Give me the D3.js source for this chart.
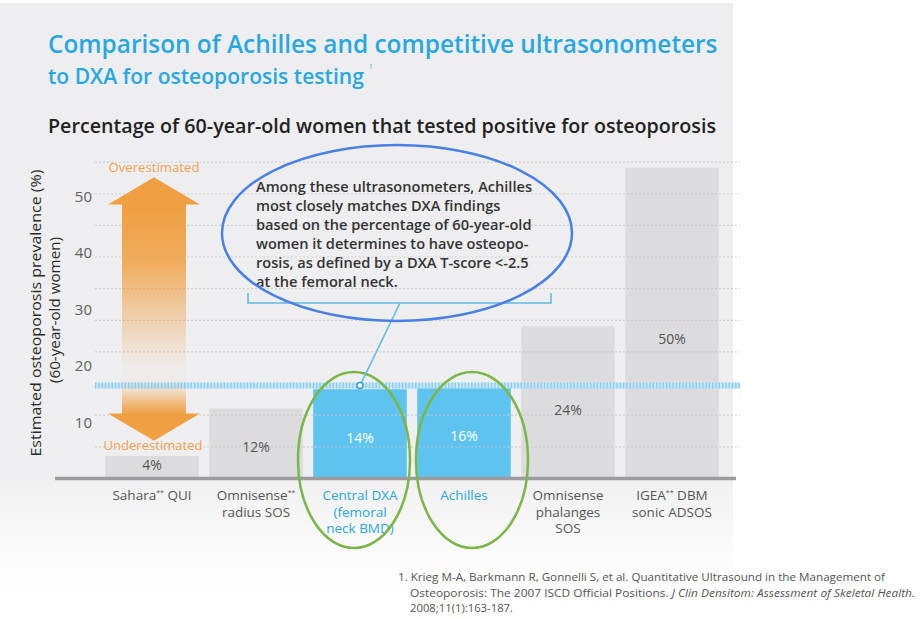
<!DOCTYPE html>
<html><head><meta charset="utf-8">
<script src="https://cdn.jsdelivr.net/npm/d3@7"></script>
<style>body{margin:0;background:#fff} svg{display:block;font-family:"Open Sans",Lato,sans-serif}</style>
</head><body><svg id="c" width="920" height="619"></svg>
<script>
// ---- data ----
const categories = ["Sahara QUI", "Omnisense radius SOS", "Central DXA", "Achilles", "Omnisense phalanges SOS", "IGEA DBM sonic ADSOS"];
const categoryLines = [
  ["Sahara** QUI"],
  ["Omnisense**", "radius SOS"],
  ["Central DXA", "(femoral", "neck BMD)"],
  ["Achilles"],
  ["Omnisense", "phalanges", "SOS"],
  ["IGEA** DBM", "sonic ADSOS"]
];
const percentLabels = [4, 12, 14, 16, 24, 50];          // printed values
const barHeights = [4, 12.4, 15.8, 16.8, 26.9, 55];      // bar tops read against the axis
const highlighted = [false, false, true, true, false, false];
const yTicks = [10, 20, 30, 40, 50];
const gridValues = [5.6, 11.2, 22.4, 28, 33.6, 39.2, 44.8, 50.4, 56];
const referenceValue = 16.8;
const titleLines = ["Comparison of Achilles and competitive ultrasonometers", "to DXA for osteoporosis testing"];
const subtitle = "Percentage of 60-year-old women that tested positive for osteoporosis";
const noteLines = [
  "Among these ultrasonometers, Achilles",
  "most closely matches DXA findings",
  "based on the percentage of 60-year-old",
  "women it determines to have osteopo-",
  "rosis, as defined by a DXA T-score <-2.5",
  "at the femoral neck."
];
const yTitle = ["Estimated osteoporosis prevalence (%)", "(60-year-old women)"];

// ---- setup ----
const svg = d3.select("#c");
const defs = svg.append("defs");
const x = d3.scaleBand().domain(categories).range([100, 724]).paddingInner(0.1).paddingOuter(0.05);
const y = d3.scaleLinear().domain([0, 50]).range([478.5, 196]);

// background
const bg = defs.append("linearGradient").attr("id", "bg").attr("x1", 0).attr("y1", 0).attr("x2", 0).attr("y2", 1);
bg.append("stop").attr("offset", 0).attr("stop-color", "#eeeef0");
bg.append("stop").attr("offset", 0.76).attr("stop-color", "#efeff1");
bg.append("stop").attr("offset", 0.82).attr("stop-color", "#f5f5f6");
bg.append("stop").attr("offset", 0.92).attr("stop-color", "#fdfdfd");
bg.append("stop").attr("offset", 1).attr("stop-color", "#ffffff");
svg.append("rect").attr("x", 0).attr("y", 3).attr("width", 733).attr("height", 616).attr("fill", "url(#bg)");

// titles (font size fitted so that natural widths match the reference)
const tg = svg.append("g").attr("fill", "#29a8e0").attr("font-weight", 600);
function fitText(sel, target) {
  sel.attr("font-size", 24);
  const w = sel.node().getComputedTextLength();
  sel.attr("font-size", 24 * target / w);
  return sel;
}
fitText(tg.append("text").attr("x", 48).attr("y", 53).text(titleLines[0]), 670);
fitText(tg.append("text").attr("x", 48).attr("y", 84).text(titleLines[1]), 316);
tg.append("text").attr("x", 369).attr("y", 69).attr("font-size", 6.5).attr("font-weight", 400).text("1");
svg.append("text").attr("x", 48).attr("y", 133).attr("fill", "#222").attr("font-size", 19.5).attr("font-weight", 600)
  .attr("textLength", 668).attr("lengthAdjust", "spacingAndGlyphs").text(subtitle);

// bars
svg.append("g").selectAll("rect").data(categories).join("rect")
  .attr("x", d => x(d)).attr("width", x.bandwidth())
  .attr("y", (d, i) => y(barHeights[i])).attr("height", (d, i) => y(0) - y(barHeights[i]))
  .attr("fill", (d, i) => highlighted[i] ? "#5ec4ef" : "#dcdcde");

// gridlines
svg.append("g").selectAll("line").data(gridValues).join("line")
  .attr("x1", 95).attr("x2", 740).attr("y1", d => y(d)).attr("y2", d => y(d))
  .attr("stroke", "#c8c8cc").attr("stroke-width", 1.2).attr("stroke-dasharray", "2,2").attr("opacity", 0.75);

// reference band
svg.append("line").attr("x1", 95).attr("x2", 740).attr("y1", y(referenceValue) + 2).attr("y2", y(referenceValue) + 2)
  .attr("stroke", "#c4e6f7").attr("stroke-width", 6);
svg.append("line").attr("x1", 95).attr("x2", 740).attr("y1", y(referenceValue) + 2).attr("y2", y(referenceValue) + 2)
  .attr("stroke", "#8ccbec").attr("stroke-width", 6).attr("stroke-dasharray", "1.3,2");

// y axis
const yAxis = svg.append("g").attr("transform", "translate(96,0)")
  .call(d3.axisLeft(y).tickValues(yTicks).tickSize(0).tickPadding(4));
yAxis.select(".domain").remove();
yAxis.selectAll("text").attr("font-size", 15).attr("fill", "#606060").attr("font-family", "Open Sans, sans-serif").attr("dy", "0.36em");

// y title
const yt = svg.append("g").attr("font-weight", 500).attr("fill", "#2a2a2a");
yt.append("text").attr("transform", "translate(41,313) rotate(-90)").attr("text-anchor", "middle")
  .attr("font-size", 14).attr("textLength", 287).attr("lengthAdjust", "spacingAndGlyphs").text(yTitle[0]);
yt.append("text").attr("transform", "translate(60,310) rotate(-90)").attr("text-anchor", "middle")
  .attr("font-size", 14).attr("textLength", 146).attr("lengthAdjust", "spacingAndGlyphs").text(yTitle[1]);

// baseline axis
svg.append("line").attr("x1", 55).attr("x2", 736).attr("y1", y(0)).attr("y2", y(0))
  .attr("stroke", "#9c9c9e").attr("stroke-width", 3.5);

// orange double arrow
const ag = defs.append("linearGradient").attr("id", "arr").attr("gradientUnits", "userSpaceOnUse")
  .attr("x1", 0).attr("x2", 0).attr("y1", y(53.3)).attr("y2", y(6.7));
[[0, 1], [0.12, 1], [0.32, 0.85], [0.48, 0.5], [0.62, 0.22], [0.72, 0.03], [0.79, 0.05], [0.85, 0.6], [0.9, 1], [1, 1]]
  .forEach(([o, a]) => ag.append("stop").attr("offset", o).attr("stop-color", "#f0a043").attr("stop-opacity", a));
const ax = x(categories[0]) + x.bandwidth() / 2 + 2;
const hw = 46, sw = 32;
const tTip = y(53.3), tBase = y(48.5), bBase = y(11.5), bTip = y(6.7);
const arrowPath = `M${ax},${tTip} L${ax + hw},${tBase} L${ax + sw},${tBase} L${ax + sw},${bBase} L${ax + hw},${bBase} L${ax},${bTip} L${ax - hw},${bBase} L${ax - sw},${bBase} L${ax - sw},${tBase} L${ax - hw},${tBase} Z`;
svg.append("path").attr("d", arrowPath).attr("fill", "url(#arr)");
svg.append("text").attr("x", ax).attr("y", 172).attr("text-anchor", "middle").attr("fill", "#f0a24d")
  .attr("font-size", 12.5).attr("textLength", 91).attr("lengthAdjust", "spacingAndGlyphs").text("Overestimated");
svg.append("text").attr("x", ax - 1).attr("y", 450).attr("text-anchor", "middle").attr("fill", "#f0a24d")
  .attr("font-size", 12.5).attr("textLength", 99).attr("lengthAdjust", "spacingAndGlyphs").text("Underestimated");

// value labels
svg.append("g").selectAll("text").data(categories).join("text")
  .attr("x", d => x(d) + x.bandwidth() / 2)
  .attr("y", (d, i) => Math.min(y(barHeights[i] * 0.45) + 5, y(0) - 9))
  .attr("text-anchor", "middle").attr("font-size", 14)
  .attr("fill", (d, i) => highlighted[i] ? "#ffffff" : "#555")
  .text((d, i) => percentLabels[i] + "%");

// category labels (one text per line)
const lineData = [];
categories.forEach((c, i) => categoryLines[i].forEach((line, j) => lineData.push({ c, i, j, line })));
const cl = svg.append("g").selectAll("text").data(lineData).join("text")
  .attr("x", d => x(d.c) + x.bandwidth() / 2).attr("y", d => 500 + d.j * 16.5)
  .attr("text-anchor", "middle").attr("font-size", 13.5)
  .attr("fill", d => highlighted[d.i] ? "#2aa7df" : "#555");
cl.each(function (d) {
  const t = d3.select(this);
  const parts = d.line.split("**");
  parts.forEach((p, k) => {
    const ts = t.append("tspan").text(p);
    if (k > 0) ts.attr("dy", 5);
    if (k < parts.length - 1) t.append("tspan").attr("font-size", 7).attr("dy", -5).text("**");
  });
});

// green ellipses
const ge = svg.append("g").attr("fill", "none").attr("stroke", "#7ab648").attr("stroke-width", 2.5);
ge.append("ellipse").attr("cx", x(categories[2]) + x.bandwidth() / 2 - 6).attr("cy", 460).attr("rx", 56).attr("ry", 88);
ge.append("ellipse").attr("cx", x(categories[3]) + x.bandwidth() / 2 + 8).attr("cy", 460).attr("rx", 56).attr("ry", 88);

// annotation text
svg.append("g").selectAll("text").data(noteLines).join("text")
  .attr("x", 256).attr("y", (d, i) => 192 + i * 19)
  .attr("font-size", 14.6).attr("fill", "#333").attr("font-weight", 600)
  .text(d => d);

// bracket and pointer
const bc = "#62bbe9";
svg.append("path").attr("d", "M248,293 V303 H551 V293").attr("fill", "none").attr("stroke", bc).attr("stroke-width", 1.6);
const dotX = x(categories[2]) + x.bandwidth() / 2, dotY = y(referenceValue) + 2;
svg.append("line").attr("x1", 400).attr("y1", 303).attr("x2", dotX).attr("y2", dotY).attr("stroke", bc).attr("stroke-width", 1.6);
svg.append("circle").attr("cx", dotX).attr("cy", dotY).attr("r", 3).attr("fill", "#ffffff").attr("stroke", "#3b9fd6").attr("stroke-width", 1.5);

// blue ellipse
svg.append("ellipse").attr("cx", 397).attr("cy", 233).attr("rx", 175).attr("ry", 88)
  .attr("fill", "none").attr("stroke", "#4a80e6").attr("stroke-width", 2.5);

// footnote
const fn = svg.append("g").attr("font-size", 11).attr("fill", "#555");
fn.append("text").attr("x", 398).attr("y", 581).attr("textLength", 487).attr("lengthAdjust", "spacingAndGlyphs")
  .text("1. Krieg M-A, Barkmann R, Gonnelli S, et al. Quantitative Ultrasound in the Management of");
const f2 = fn.append("text").attr("x", 410).attr("y", 597).attr("textLength", 505).attr("lengthAdjust", "spacingAndGlyphs");
f2.append("tspan").text("Osteoporosis: The 2007 ISCD Official Positions. ");
f2.append("tspan").attr("font-style", "italic").text("J Clin Densitom: Assessment of Skeletal Health.");
fn.append("text").attr("x", 410).attr("y", 612).attr("textLength", 103).attr("lengthAdjust", "spacingAndGlyphs").text("2008;11(1):163-187.");
</script></body></html>
